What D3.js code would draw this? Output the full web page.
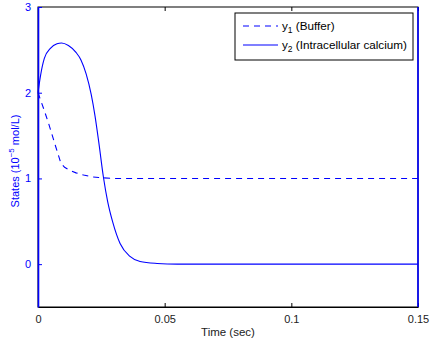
<!DOCTYPE html>
<html>
<head>
<meta charset="utf-8">
<script src="https://cdn.jsdelivr.net/npm/d3@7"></script>
<style>
  body { margin: 0; background: #fff; }
  text { font-family: "Liberation Sans", Arial, sans-serif; }
</style>
</head>
<body>
<svg id="chart" width="430" height="344"></svg>
<script>
(() => {
  'use strict';

  // values
  const buffer = [ // y1, dashed
    [0, 2.0], [0.0024, 1.80], [0.0043, 1.63], [0.007, 1.37], [0.009, 1.18],
    [0.0105, 1.13], [0.0122, 1.10], [0.015, 1.065], [0.018, 1.04], [0.021, 1.02],
    [0.024, 1.01], [0.03, 1.0], [0.15, 1.0]
  ];
  const calcium = [ // y2, solid
    [0, 2.0], [0.001, 2.2], [0.0025, 2.40], [0.005, 2.52], [0.0075, 2.57],
    [0.0093, 2.58], [0.012, 2.55], [0.015, 2.47], [0.017, 2.38], [0.019, 2.22],
    [0.021, 1.98], [0.0225, 1.73], [0.024, 1.42], [0.0258, 1.02], [0.0275, 0.73],
    [0.0295, 0.49], [0.0324, 0.24], [0.0363, 0.09], [0.0403, 0.03], [0.047, 0.008],
    [0.055, 0.0], [0.15, 0.0]
  ];
  const xTicks = [0, 0.05, 0.1, 0.15];
  const xTickLabels = ['0', '0.05', '0.1', '0.15'];
  const yTicks = [0, 1, 2, 3];

  const blue = '#0000ff';
  const svg = d3.select('#chart');
  const m = {left: 38, right: 418, top: 7, bottom: 307};

  const x = d3.scaleLinear().domain([0, 0.15]).range([m.left, m.right]);
  const y = d3.scaleLinear().domain([-0.5, 3]).range([m.bottom, m.top]);

  // box
  svg.append('rect')
    .attr('x', m.left).attr('y', m.top)
    .attr('width', m.right - m.left).attr('height', m.bottom - m.top)
    .attr('fill', '#fff').attr('stroke', '#000').attr('stroke-width', 1);

  // x axis, ticks inside
  const xAxis = d3.axisBottom(x).tickValues(xTicks)
    .tickFormat((d, i) => xTickLabels[i]).tickSizeInner(-4).tickSizeOuter(0).tickPadding(8);
  let gx = svg.append('g').attr('transform', `translate(0,${m.bottom})`).call(xAxis);
  gx.select('.domain').attr('stroke', '#000');
  gx.selectAll('text').attr('font-size', 11).attr('fill', '#222').attr('font-family', 'Liberation Sans, Arial, sans-serif');

  let gxt = svg.append('g').attr('transform', `translate(0,${m.top})`)
    .call(d3.axisTop(x).tickValues(xTicks).tickFormat('').tickSizeInner(-4).tickSizeOuter(0));
  gxt.select('.domain').remove();

  // y axis, blue
  const yAxis = d3.axisLeft(y).tickValues(yTicks).tickFormat(d3.format('d'))
    .tickSizeInner(-4).tickSizeOuter(0).tickPadding(7);
  let gy = svg.append('g').attr('transform', `translate(${m.left},0)`).call(yAxis);
  gy.select('.domain').attr('stroke', blue).attr('stroke-width', 1.6);
  gy.selectAll('.tick line').attr('stroke', blue);
  gy.selectAll('text').attr('font-size', 11).attr('fill', blue).attr('font-family', 'Liberation Sans, Arial, sans-serif');

  svg.append('line')
    .attr('x1', m.right).attr('x2', m.right).attr('y1', m.top).attr('y2', m.bottom)
    .attr('stroke', blue).attr('stroke-width', 1.6);

  // lines
  const line = d3.line().x(d => x(d[0])).y(d => y(d[1]));
  svg.append('path').datum(buffer)
    .attr('d', line.curve(d3.curveLinear))
    .attr('fill', 'none').attr('stroke', blue).attr('stroke-width', 1.1)
    .attr('stroke-dasharray', '6,5');
  svg.append('path').datum(calcium)
    .attr('d', line.curve(d3.curveMonotoneX))
    .attr('fill', 'none').attr('stroke', blue).attr('stroke-width', 1.1);

  // axis titles
  svg.append('text')
    .attr('x', (m.left + m.right) / 2).attr('y', 336)
    .attr('text-anchor', 'middle').attr('font-size', 11.5).attr('fill', '#222')
    .text('Time (sec)');

  let yl = svg.append('text')
    .attr('transform', `translate(19,161) rotate(-90)`)
    .attr('text-anchor', 'middle').attr('font-size', 11).attr('fill', blue);
  yl.append('tspan').text('States (10');
  yl.append('tspan').attr('dy', -5).attr('font-size', 8).text('\u22125');
  yl.append('tspan').attr('dy', 5).text(' mol/L)');

  // legend
  const lg = svg.append('g');
  lg.append('rect')
    .attr('x', 235).attr('y', 13).attr('width', 178).attr('height', 47)
    .attr('fill', '#fff').attr('stroke', '#000').attr('stroke-width', 1);
  const entries = [
    {sub: '1', label: ' (Buffer)', dash: '6,5'},
    {sub: '2', label: ' (Intracellular calcium)', dash: null}
  ];
  entries.forEach((e, i) => {
    const cy = 26 + i * 19;
    lg.append('line')
      .attr('x1', 243).attr('x2', 278).attr('y1', cy).attr('y2', cy)
      .attr('stroke', blue).attr('stroke-width', 1.1)
      .attr('stroke-dasharray', e.dash);
    const t = lg.append('text').attr('x', 282).attr('y', cy + 4).attr('font-size', 11.7).attr('fill', '#000');
    t.append('tspan').text('y');
    t.append('tspan').attr('dy', 3).attr('font-size', 8.5).text(e.sub);
    t.append('tspan').attr('dy', -3).text(e.label);
  });
})();
</script>
</body>
</html>
